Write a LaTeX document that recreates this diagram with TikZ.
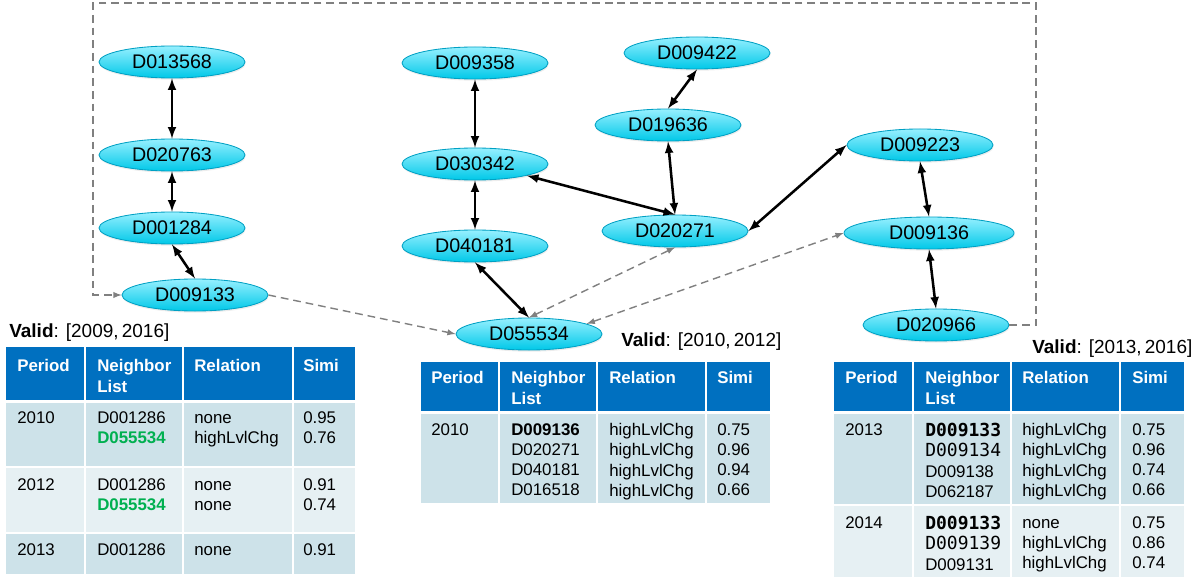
\documentclass[tikz,border=0pt]{standalone}
\usepackage{fontspec}
\setmainfont{Liberation Sans}
\newfontfamily\codefont{DejaVu Sans Mono}
\usetikzlibrary{shapes.geometric,shadows}
\definecolor{hdrblue}{RGB}{0,112,192}
\definecolor{rowdark}{RGB}{205,226,233}
\definecolor{rowlight}{RGB}{230,240,243}
\definecolor{idgreen}{RGB}{0,176,80}
\definecolor{dashgray}{RGB}{128,128,128}
\definecolor{nodetop}{RGB}{150,240,255}
\definecolor{nodebot}{RGB}{0,200,232}
\definecolor{nodeline}{RGB}{0,160,195}
\tikzset{
  doc/.style={ellipse, draw=nodeline, line width=0.6pt, top color=nodetop, bottom color=nodebot,
    minimum width=3.65cm, minimum height=0.8cm, inner sep=0pt, font=\fontsize{14}{16}\selectfont,
    drop shadow={opacity=0.15, shadow xshift=0.4pt, shadow yshift=-1.2pt}},
  link/.style={<->, line width=1.8pt, black},
  weak/.style={->, dashgray, line width=1pt, dash pattern=on 5.5pt off 3.5pt},
  cell/.style={anchor=north west, inner sep=0pt, align=left, font=\fontsize{12}{14.4}\selectfont},
  head/.style={cell, text=white, font=\fontsize{12}{14.9}\selectfont\bfseries},
  valid/.style={anchor=base west, inner sep=0pt, font=\fontsize{13.5}{16}\selectfont},
  box/.style={draw=white, line width=1.4pt}
}
\newcommand{\tstrut}{\rule{0pt}{8.6pt}}
\newcommand{\greenid}[1]{\textcolor{idgreen}{\bfseries #1}}
\newcommand{\monoid}[1]{{\codefont\fontsize{12.8}{14.4}\selectfont #1}}

\begin{document}
\begin{tikzpicture}[x=0.025cm, y=-0.025cm, >=latex]
		\useasboundingbox (0,0) rectangle (1202,577);
		%\draw[help lines, step=50] (0,0) grid (1202,577);
		
		% documents, left group
		\node[doc] (d013568) at (172,62) {D013568};
		\node[doc] (d020763) at (172,155) {D020763};
		\node[doc] (d001284) at (172,228) {D001284};
		\node[doc] (d009133) at (195,295) {D009133};
		
		% documents, middle group
		\node[doc] (d009358) at (475,63) {D009358};
		\node[doc] (d030342) at (475,164) {D030342};
		\node[doc] (d040181) at (475,246) {D040181};
		\node[doc] (d055534) at (529,334) {D055534};
		\node[doc] (d009422) at (697,53) {D009422};
		\node[doc] (d019636) at (668,125) {D019636};
		\node[doc] (d020271) at (675,231) {D020271};
		
		% documents, right group
		\node[doc] (d009223) at (920,145) {D009223};
		\node[doc, minimum width=4.25cm] (d009136) at (929,233) {D009136};
		\node[doc] (d020966) at (936,325) {D020966};
		
		% neighbor links
		\draw[link] (d013568) -- (d020763);
		\draw[link] (d020763) -- (d001284);
		\draw[link] (d001284.south) -- (d009133.north);
		\draw[link] (d009358) -- (d030342);
		\draw[link] (d030342) -- (d040181);
		\draw[link] (d040181.south) -- (d055534.north);
		\draw[link] (d030342.south east) -- (d020271.north);
		\draw[link] (d009422.south) -- (d019636.north);
		\draw[link] (d019636.south) -- (d020271.north);
		\draw[link] (d009223.west) -- (d020271.east);
		\draw[link] (d009223.south) -- (d009136.north);
		\draw[link] (d009136.south) -- (d020966.north);
		
		% high level changes
		\coordinate (loopne) at (1036,3);
		\coordinate (loopnw) at (93,3);
		\draw[weak] (d009133.east) -- (d055534.west);
		\draw[weak, <->] (d055534.north) -- (d020271.south);
		\draw[weak, <->] (d055534.10) -- (d009136.west);
		\draw[weak] (d020966.east) -| (loopne) -- (loopnw) |- (d009133.west);
		
		% table of D009133
		\node[valid] (valid1) at (9,337) {\textbf{Valid}: [2009,\,2016]};
		\foreach \xa/\xb in {5/85, 85/183, 183/293, 293/356} {
			\filldraw[box, fill=hdrblue] (\xa,346) rectangle (\xb,401);
			\filldraw[box, fill=rowdark] (\xa,402) rectangle (\xb,467);
			\filldraw[box, fill=rowlight] (\xa,467) rectangle (\xb,533);
			\filldraw[box, fill=rowdark] (\xa,533) rectangle (\xb,575);
		}
		\node[head] (p1) at (17,359) {Period};
		\node[head] (n1) at (97,359) {Neighbor\\List};
		\node[head] (r1) at (194,359) {Relation};
		\node[head] (s1) at (303,359) {Simi};
		\node[cell] (p1a) at (17,411) {2010};
		\node[cell] (n1a) at (97,411) {D001286\\\greenid{D055534}};
		\node[cell] (r1a) at (194,411) {\tstrut none\\highLvlChg};
		\node[cell] (s1a) at (303,411) {0.95\\0.76};
		\node[cell] (p1b) at (17,478) {2012};
		\node[cell] (n1b) at (97,478) {D001286\\\greenid{D055534}};
		\node[cell] (r1b) at (194,478) {\tstrut none\\none};
		\node[cell] (s1b) at (303,478) {0.91\\0.74};
		\node[cell] (p1c) at (17,543) {2013};
		\node[cell] (n1c) at (97,543) {D001286};
		\node[cell] (r1c) at (194,543) {\tstrut none};
		\node[cell] (s1c) at (303,543) {0.91};
		
		% table of D055534
		\node[valid] (valid2) at (621,346) {\textbf{Valid}: [2010,\,2012]};
		\foreach \xa/\xb in {420/499, 499/597, 597/706, 706/771} {
			\filldraw[box, fill=hdrblue] (\xa,361) rectangle (\xb,412);
			\filldraw[box, fill=rowdark] (\xa,413) rectangle (\xb,504);
		}
		\node[head] (p2) at (431,371) {Period};
		\node[head] (n2) at (511,371) {Neighbor\\List};
		\node[head] (r2) at (609,371) {Relation};
		\node[head] (s2) at (717,371) {Simi};
		\node[cell] (p2a) at (431,423) {2010};
		\node[cell] (n2a) at (511,423) {\textbf{D009136}\\D020271\\D040181\\D016518};
		\node[cell] (r2a) at (609,423) {highLvlChg\\highLvlChg\\highLvlChg\\highLvlChg};
		\node[cell] (s2a) at (717,423) {0.75\\0.96\\0.94\\0.66};
		
		% table of D020966
		\node[valid] (valid3) at (1032,353) {\textbf{Valid}: [2013,\,2016]};
		\foreach \xa/\xb in {833/913, 913/1011, 1011/1120, 1120/1185} {
			\filldraw[box, fill=hdrblue] (\xa,361) rectangle (\xb,412);
			\filldraw[box, fill=rowdark] (\xa,413) rectangle (\xb,505);
			\filldraw[box, fill=rowlight] (\xa,505) rectangle (\xb,579);
		}
		\node[head] (p3) at (845,371) {Period};
		\node[head] (n3) at (925,371) {Neighbor\\List};
		\node[head] (r3) at (1022,371) {Relation};
		\node[head] (s3) at (1132,371) {Simi};
		\node[cell] (p3a) at (845,423) {2013};
		\node[cell] (n3a) at (925,423) {\monoid{\bfseries D009133}\\\monoid{D009134}\\D009138\\D062187};
		\node[cell] (r3a) at (1022,423) {highLvlChg\\highLvlChg\\highLvlChg\\highLvlChg};
		\node[cell] (s3a) at (1132,423) {0.75\\0.96\\0.74\\0.66};
		\node[cell] (p3b) at (845,516) {2014};
		\node[cell] (n3b) at (925,516) {\monoid{\bfseries D009133}\\\monoid{D009139}\\D009131};
		\node[cell] (r3b) at (1022,516) {\tstrut none\\highLvlChg\\highLvlChg};
		\node[cell] (s3b) at (1132,516) {0.75\\0.86\\0.74};
\end{tikzpicture}
\end{document}
